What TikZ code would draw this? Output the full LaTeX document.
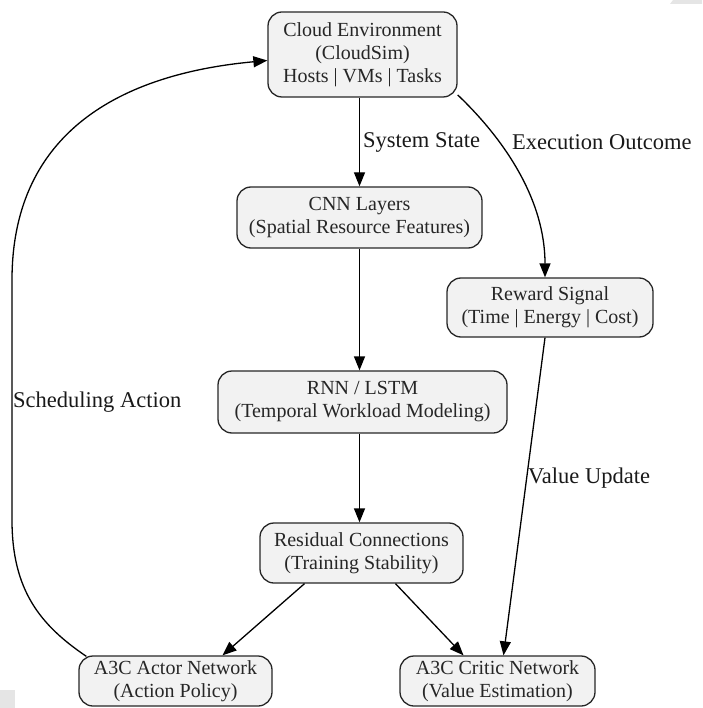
\documentclass[tikz,border=0pt]{standalone}
\usepackage{fontspec}
\setmainfont{Liberation Serif}
\usetikzlibrary{arrows.meta}
\begin{document}
\begin{tikzpicture}[x=1pt,y=-1pt,
  box/.style={draw=black!85, line width=1.3pt, fill=black!5, rounded corners=14pt, align=center, inner sep=0pt, font=\fontsize{20}{23}\selectfont, text=black!85},
  conn/.style={draw=black, line width=1.3pt, -{Triangle[length=14pt,width=11pt]}},
  lbl/.style={font=\fontsize{22.5}{26}\selectfont, inner sep=0pt, anchor=west, text=black!90}]
\useasboundingbox (0,0) rectangle (702,708);
\fill[black!10] (0,690) rectangle (15,708);
\fill[black!10] (673,0) -- (702,0) -- (702,4) -- (670,4) -- cycle;

\node[box, minimum width=189pt, minimum height=85pt] (cloud) at (362.5,54.5) {Cloud Environment\\(CloudSim)\\Hosts | VMs | Tasks};
\node[box, minimum width=245pt, minimum height=61pt] (cnn) at (359.5,217.5) {CNN Layers\\(Spatial Resource Features)};
\node[box, minimum width=206pt, minimum height=59pt] (reward) at (550,307.5) {Reward Signal\\(Time | Energy | Cost)};
\node[box, minimum width=289pt, minimum height=62pt] (rnn) at (362.5,402) {RNN / LSTM\\(Temporal Workload Modeling)};
\node[box, minimum width=203pt, minimum height=60pt] (resid) at (361.5,553) {Residual Connections\\(Training Stability)};
\node[box, minimum width=193pt, minimum height=50pt] (actor) at (175.5,681) {A3C Actor Network\\(Action Policy)};
\node[box, minimum width=195pt, minimum height=50pt] (critic) at (497.5,681) {A3C Critic Network\\(Value Estimation)};

\draw[conn] (cnn.north |- cloud.south) -- (cnn.north);
\draw[conn] (cloud.-23) .. controls (505,140) and (545,200) .. ([xshift=-5pt]reward.north);
\draw[conn] (cnn.south) -- (rnn.north -| cnn.south);
\draw[conn] (rnn.south -| cnn.south) -- (resid.north -| cnn.south);
\draw[conn] ([xshift=-57pt]resid.south) -- ([xshift=47pt]actor.north);
\draw[conn] ([xshift=34pt]resid.south) -- ([xshift=-34pt]critic.north);
\draw[conn] ([xshift=-5pt]reward.south) -- ([xshift=6pt]critic.north);
\draw[conn] ([xshift=8pt,yshift=-1pt]actor.north west) .. controls (40,625) and (12,590) .. (12,520)
  -- (12,280) .. controls (12,140) and (110,75) .. ([yshift=-6pt]cloud.west);

\node[lbl] (l1) at (363,142) {System State};
\node[lbl] (l2) at (512,142) {Execution Outcome};
\node[lbl] (l3) at (528,478) {Value Update};
\node[lbl] (l4) at (13,402) {Scheduling Action};
\end{tikzpicture}
\end{document}
